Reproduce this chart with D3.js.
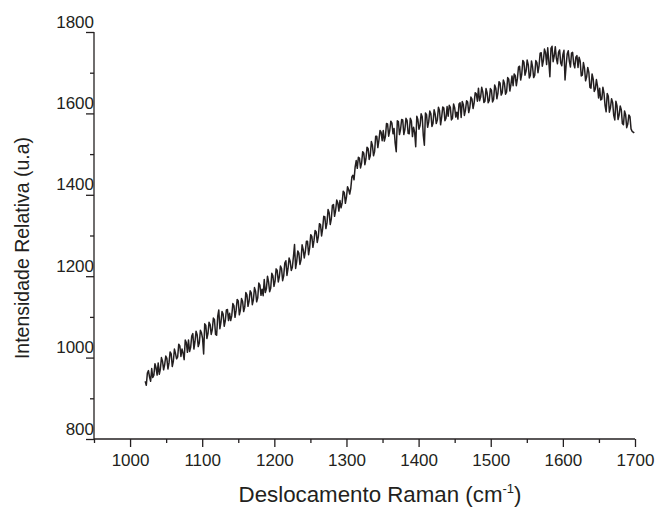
<!DOCTYPE html>
<html><head><meta charset="utf-8">
<script src="https://cdn.jsdelivr.net/npm/d3@7"></script>
<style>body{margin:0;background:#fff}svg{display:block}</style>
</head><body><svg id="c" width="659" height="507"></svg>
<script>
// Raman spectrum: samples, every 3 cm-1 from 1021 cm-1
const ramanStart = 1021, ramanStep = 3;
const intensity = [
942, 962, 952, 973, 957, 975, 987, 972, 991, 983,
998, 987, 1009, 991, 1010, 1002, 1029, 1021, 995, 1037,
1043, 1025, 1059, 1039, 1056, 1036, 1061, 1009, 1079, 1059,
1081, 1069, 1093, 1055, 1117, 1087, 1107, 1090, 1118, 1109,
1103, 1127, 1116, 1139, 1117, 1138, 1124, 1154, 1139, 1159,
1142, 1163, 1147, 1178, 1168, 1192, 1169, 1186, 1171, 1201,
1188, 1214, 1199, 1219, 1201, 1238, 1219, 1236, 1222, 1278,
1236, 1257, 1240, 1266, 1261, 1286, 1270, 1298, 1288, 1309,
1297, 1327, 1317, 1346, 1331, 1356, 1341, 1376, 1362, 1380,
1386, 1380, 1405, 1394, 1413, 1416, 1448, 1468, 1465, 1490,
1478, 1502, 1488, 1514, 1496, 1521, 1506, 1544, 1534, 1554,
1558, 1543, 1574, 1558, 1576, 1563, 1506, 1580, 1561, 1584,
1560, 1583, 1550, 1581, 1566, 1518, 1585, 1570, 1592, 1522,
1597, 1579, 1599, 1576, 1598, 1584, 1607, 1591, 1613, 1588,
1593, 1615, 1588, 1614, 1603, 1623, 1590, 1622, 1608, 1628,
1614, 1635, 1626, 1648, 1662, 1640, 1653, 1630, 1650, 1632,
1657, 1634, 1662, 1650, 1674, 1651, 1674, 1653, 1684, 1671,
1668, 1693, 1686, 1716, 1696, 1726, 1704, 1720, 1694, 1714,
1694, 1725, 1717, 1749, 1730, 1749, 1761, 1690, 1765, 1741,
1735, 1750, 1724, 1744, 1682, 1746, 1728, 1748, 1722, 1738,
1713, 1728, 1694, 1711, 1690, 1701, 1662, 1685, 1660, 1667,
1662, 1635, 1650, 1604, 1642, 1614, 1627, 1584, 1619, 1596,
1609, 1572, 1597, 1574, 1592, 1556, 1552
];
// in-between samples, every 3 cm-1 from 1022.5 cm-1
const midStart = 1022.5;
const intensityMid = [
932, 968, 942, 951, 985, 957, 959, 1000, 970, 1004,
972, 1014, 978, 1021, 997, 1033, 1003, 1011, 1043, 1013,
1015, 1053, 1021, 1065, 1027, 1067, 1047, 1083, 1047, 1087,
1057, 1097, 1057, 1101, 1071, 1113, 1077, 1117, 1091, 1091,
1133, 1099, 1143, 1105, 1145, 1113, 1160, 1126, 1164, 1130,
1172, 1137, 1183, 1153, 1152, 1160, 1200, 1162, 1207, 1175,
1218, 1186, 1225, 1189, 1232, 1202, 1245, 1214, 1248, 1219,
1262, 1229, 1277, 1245, 1286, 1253, 1302, 1271, 1312, 1283,
1329, 1299, 1347, 1317, 1364, 1327, 1374, 1347, 1387, 1360,
1368, 1409, 1379, 1420, 1402, 1444, 1437, 1484, 1492, 1466,
1506, 1474, 1517, 1487, 1531, 1496, 1544, 1516, 1558, 1533,
1532, 1575, 1544, 1581, 1550, 1527, 1582, 1548, 1585, 1548,
1588, 1551, 1588, 1543, 1554, 1593, 1561, 1599, 1546, 1601,
1566, 1606, 1568, 1609, 1575, 1615, 1572, 1616, 1582, 1617,
1620, 1584, 1623, 1591, 1586, 1626, 1629, 1595, 1631, 1602,
1640, 1612, 1651, 1630, 1631, 1664, 1627, 1661, 1626, 1661,
1628, 1670, 1636, 1678, 1645, 1682, 1647, 1688, 1655, 1692,
1697, 1668, 1714, 1682, 1730, 1694, 1731, 1687, 1729, 1688,
1730, 1700, 1748, 1716, 1758, 1720, 1728, 1760, 1727, 1764,
1722, 1756, 1717, 1755, 1718, 1754, 1714, 1750, 1712, 1742,
1738, 1692, 1725, 1680, 1713, 1664, 1697, 1654, 1683, 1638,
1633, 1664, 1619, 1649, 1603, 1636, 1595, 1630, 1585, 1618,
1575, 1606, 1565, 1596, 1562, 1554
];
const xMajorTicks = [1000, 1100, 1200, 1300, 1400, 1500, 1600, 1700];
const xMinorTicks = [950, 1050, 1150, 1250, 1350, 1450, 1550, 1650];
const yMajorTicks = [800, 1000, 1200, 1400, 1600, 1800];
const yMinorTicks = [900, 1100, 1300, 1500, 1700];
const xTitleMain = "Deslocamento Raman (cm";
const xTitleSup = "-1";
const xTitleEnd = ")";
const yTitle = "Intensidade Relativa (u.a)";

const svg = d3.select("#c");
const font = "'Liberation Sans', Arial, sans-serif";
const ink = "#231f20";

const x = d3.scaleLinear().domain([950, 1700]).range([94, 635]);
const y = d3.scaleLinear().domain([800, 1800]).range([439, 32]);

const pts = intensity.map((v, i) => [ramanStart + i * ramanStep, v])
  .concat(intensityMid.map((v, i) => [midStart + i * ramanStep, v]))
  .sort((a, b) => a[0] - b[0]);

// axis lines
svg.append("line").attr("x1", x(950)).attr("x2", x(1700)).attr("y1", y(800)).attr("y2", y(800))
  .attr("stroke", ink).attr("stroke-width", 1.3);
svg.append("line").attr("x1", x(950)).attr("x2", x(950)).attr("y1", y(800)).attr("y2", y(1800))
  .attr("stroke", ink).attr("stroke-width", 1.3);

const fmt = d3.format("d");
const gx = svg.append("g").attr("transform", `translate(0,${y(800)})`)
  .call(d3.axisBottom(x).tickValues(xMajorTicks).tickSize(8).tickSizeOuter(0).tickFormat(fmt));
const gxm = svg.append("g").attr("transform", `translate(0,${y(800)})`)
  .call(d3.axisBottom(x).tickValues(xMinorTicks).tickSize(4).tickFormat(""));
const gy = svg.append("g").attr("transform", `translate(${x(950)},0)`)
  .call(d3.axisLeft(y).tickValues(yMajorTicks).tickSize(8).tickSizeOuter(0).tickFormat(fmt));
const gym = svg.append("g").attr("transform", `translate(${x(950)},0)`)
  .call(d3.axisLeft(y).tickValues(yMinorTicks).tickSize(4).tickFormat(""));

[gx, gxm, gy, gym].forEach(g => {
  g.select(".domain").remove();
  g.selectAll(".tick line").attr("stroke", ink).attr("stroke-width", 1.3);
  g.selectAll("text").attr("font-family", font).attr("font-size", 17).attr("fill", ink);
});
gx.selectAll("text").attr("y", 27).attr("dy", 0);
gy.selectAll("text").attr("x", 0).attr("dy", -5).attr("text-anchor", "end");

// spectrum
svg.append("path").datum(pts)
  .attr("fill", "none").attr("stroke", ink).attr("stroke-width", 1.5).attr("stroke-linejoin", "round")
  .attr("d", d3.line().x(d => x(d[0])).y(d => y(d[1])));

// titles
const xt = svg.append("text").attr("x", 380).attr("y", 502).attr("text-anchor", "middle")
  .attr("font-family", font).attr("font-size", 22.3).attr("fill", ink);
xt.append("tspan").text(xTitleMain);
xt.append("tspan").attr("font-size", 13).attr("dy", -9).text(xTitleSup);
xt.append("tspan").attr("dy", 9).text(xTitleEnd);

svg.append("text").attr("transform", "translate(29,248) rotate(-90)").attr("text-anchor", "middle")
  .attr("font-family", font).attr("font-size", 19.5).attr("fill", ink).text(yTitle);
</script>
</body></html>
